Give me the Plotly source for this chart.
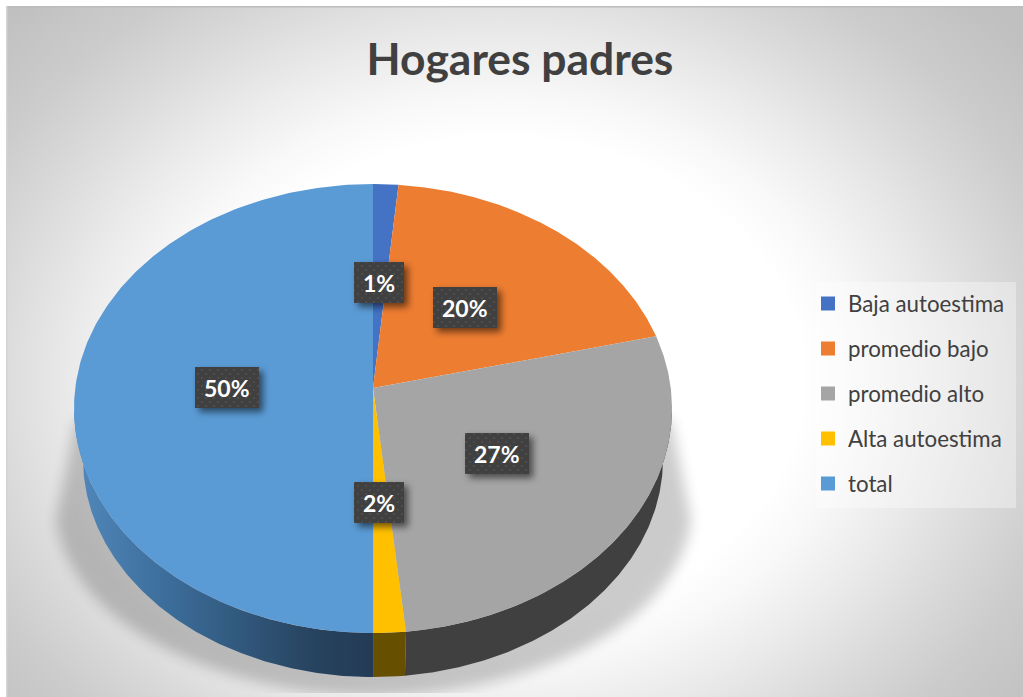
import base64
import numpy as np
import plotly.graph_objects as go

# Data
categories = ["Baja autoestima", "promedio bajo", "promedio alto", "Alta autoestima", "total"]
values = [1.49, 19.7, 27.2, 1.6, 50.0]
top_colors = ["#4472C4", "#ED7D31", "#A5A5A5", "#FFC000", "#5B9BD5"]
side_colors = ["#294576", "#8E4B1D", "#404040", "#665000", None]
title_text = "Hogares padres"

# Layout constants (pixels on the page-sized axes)
W, H = 1023, 697
CX = 373
TOP_CY, TOP_RX, TOP_RY = 408.5, 299, 224.5     # upper rim
LOW_CY, LOW_RX, LOW_RY = 459, 290, 218         # lower rim (smaller: perspective)
APEX_Y = 388                                   # where the slices meet
label_boxes = [(354, 262, 50, 41), (433, 287, 64, 41), (465, 433, 64, 41), (354, 482, 50, 41), (195, 367, 64, 41)]
FONT = "Lato"

E = (APEX_Y - TOP_CY) / TOP_RY


def rim_param(deg):
    """Angle around the true circle -> point on the unit circle seen in perspective."""
    t = np.radians(deg)
    x, y = np.sin(t), -np.cos(t)
    den = 1 + E * y
    return x * np.sqrt(1 - E * E) / den, (y + E) / den


total = sum(values)
edges = np.concatenate([[0.0], np.cumsum(values)]) / total * 360.0

boxes_svg = "".join(
    f'<rect x="{x}" y="{y}" width="{w}" height="{h}" fill="#000" opacity="0.55" filter="url(#ls)" transform="translate(4 4)"/>'
    f'<rect x="{x}" y="{y}" width="{w}" height="{h}" fill="url(#dots)"/>'
    for x, y, w, h in label_boxes
)

background = f'''<svg xmlns="http://www.w3.org/2000/svg" width="{W}" height="{H}" viewBox="0 0 {W} {H}">
<defs>
<radialGradient id="bg" gradientUnits="userSpaceOnUse" cx="0" cy="0" r="670"
 gradientTransform="translate(500 380) scale(1 0.8)">
<stop offset="0.45" stop-color="#ffffff"/><stop offset="0.53" stop-color="#f8f8f8"/>
<stop offset="0.64" stop-color="#eaeaea"/><stop offset="0.76" stop-color="#d9d9d9"/>
<stop offset="0.86" stop-color="#cccccc"/><stop offset="1" stop-color="#c0c0c0"/>
</radialGradient>
<filter id="blur" x="-20%" y="-20%" width="140%" height="140%"><feGaussianBlur stdDeviation="7"/></filter>
<clipPath id="frame"><rect x="6" y="6" width="1017" height="687"/></clipPath>
</defs>
<rect width="{W}" height="{H}" fill="#ffffff"/>
<rect x="6" y="6" width="1017" height="691" fill="url(#bg)"/>
<rect x="6" y="6" width="1017" height="1.5" fill="#bcbcbc"/>
<rect x="6" y="6" width="1.5" height="691" fill="#d4d4d4"/>
<g clip-path="url(#frame)">
<path d="M76 420 L56 520 C75 640 250 696 373 696 C500 696 675 640 691 520 L671 420 Z" fill="#000" opacity="0.2" filter="url(#blur)"/>
</g>
<rect x="816" y="282" width="200" height="226" fill="#ffffff" opacity="0.35"/>
</svg>'''

overlay = f'''<svg xmlns="http://www.w3.org/2000/svg" width="{W}" height="{H}" viewBox="0 0 {W} {H}">
<defs>
<filter id="ls" x="-30%" y="-30%" width="160%" height="160%"><feGaussianBlur stdDeviation="3.5"/></filter>
<pattern id="dots" width="8" height="8" patternUnits="userSpaceOnUse">
<rect width="8" height="8" fill="#404040"/><rect x="1" y="1" width="2" height="2" fill="#4d4d4d"/><rect x="5" y="5" width="2" height="2" fill="#4d4d4d"/>
</pattern>
</defs>
{boxes_svg}
</svg>'''


def uri(svg):
    return "data:image/svg+xml;base64," + base64.b64encode(svg.encode()).decode()


fig = go.Figure()

# Visible rim: the front half, where the perspective parameter v is >= 0
front_start = np.degrees(np.arccos(E))   # true angle at which v == 0
front_end = 360.0 - front_start
for i, cat in enumerate(categories):
    a0, a1 = max(edges[i], front_start), min(edges[i + 1], front_end)
    if a1 <= a0:
        continue
    d = np.linspace(a0, a1, 160)
    u, v = rim_param(d)
    xt, yt = CX + TOP_RX * u, TOP_CY + TOP_RY * v
    xb, yb = CX + LOW_RX * u[::-1], LOW_CY + LOW_RY * v[::-1]
    kw = dict(fillcolor=side_colors[i]) if side_colors[i] else dict(
        fillgradient=dict(
            type="horizontal",
            colorscale=[[0, "#5188BC"], [0.35, "#3A6A96"], [0.8, "#27435F"], [1, "#243B55"]],
        )
    )
    fig.add_trace(go.Scatter(x=np.r_[xt, xb], y=np.r_[yt, yb], mode="lines", fill="toself",
                             line=dict(width=0), hoverinfo="skip", showlegend=False, **kw))

# Top face slices
for i, cat in enumerate(categories):
    d = np.linspace(edges[i], edges[i + 1], 240)
    u, v = rim_param(d)
    x, y = CX + TOP_RX * u, TOP_CY + TOP_RY * v
    fig.add_trace(go.Scatter(x=np.r_[CX, x, CX], y=np.r_[APEX_Y, y, APEX_Y], mode="lines", fill="toself",
                             fillcolor=top_colors[i], line=dict(width=0), name=cat,
                             hovertemplate=f"{cat}: {values[i]:.0f}%<extra></extra>", showlegend=False))

# Native legend entries
for i, cat in enumerate(categories):
    fig.add_trace(go.Scatter(x=[None], y=[None], mode="markers", name=cat, legendgroup=cat,
                             marker=dict(symbol="square", size=14, color=top_colors[i])))

annotations = [
    dict(x=x + w / 2, y=y + h / 2, text=f"<b>{values[i] / total * 100:.0f}%</b>", showarrow=False,
         font=dict(family=FONT, size=23, color="#ffffff"), xanchor="center", yanchor="middle")
    for i, (x, y, w, h) in enumerate(label_boxes)
]

fig.update_layout(
    width=W, height=H, margin=dict(l=0, r=0, t=0, b=0),
    paper_bgcolor="#ffffff", plot_bgcolor="rgba(0,0,0,0)",
    xaxis=dict(range=[0, W], visible=False, fixedrange=True),
    yaxis=dict(range=[H, 0], visible=False, fixedrange=True),
    title=dict(text=title_text, x=520 / W, xanchor="center", y=1 - 59 / H, yanchor="middle",
               font=dict(family=FONT, size=44.4, color="#404040", weight=700)),
    legend=dict(x=808 / W, xanchor="left", y=1 - 282.5 / H, yanchor="top", bgcolor="rgba(0,0,0,0)",
                tracegroupgap=13, itemclick=False, itemdoubleclick=False,
                font=dict(family=FONT, size=22.3, color="#404040")),
    annotations=annotations,
    images=[
        dict(source=uri(background), xref="paper", yref="paper", x=0, y=1, sizex=1, sizey=1,
             sizing="stretch", xanchor="left", yanchor="top", layer="below"),
        dict(source=uri(overlay), xref="paper", yref="paper", x=0, y=1, sizex=1, sizey=1,
             sizing="stretch", xanchor="left", yanchor="top", layer="above"),
    ],
)

fig.write_html("out.html", config=dict(displayModeBar=False),
               post_script="document.body.style.margin='0';")
